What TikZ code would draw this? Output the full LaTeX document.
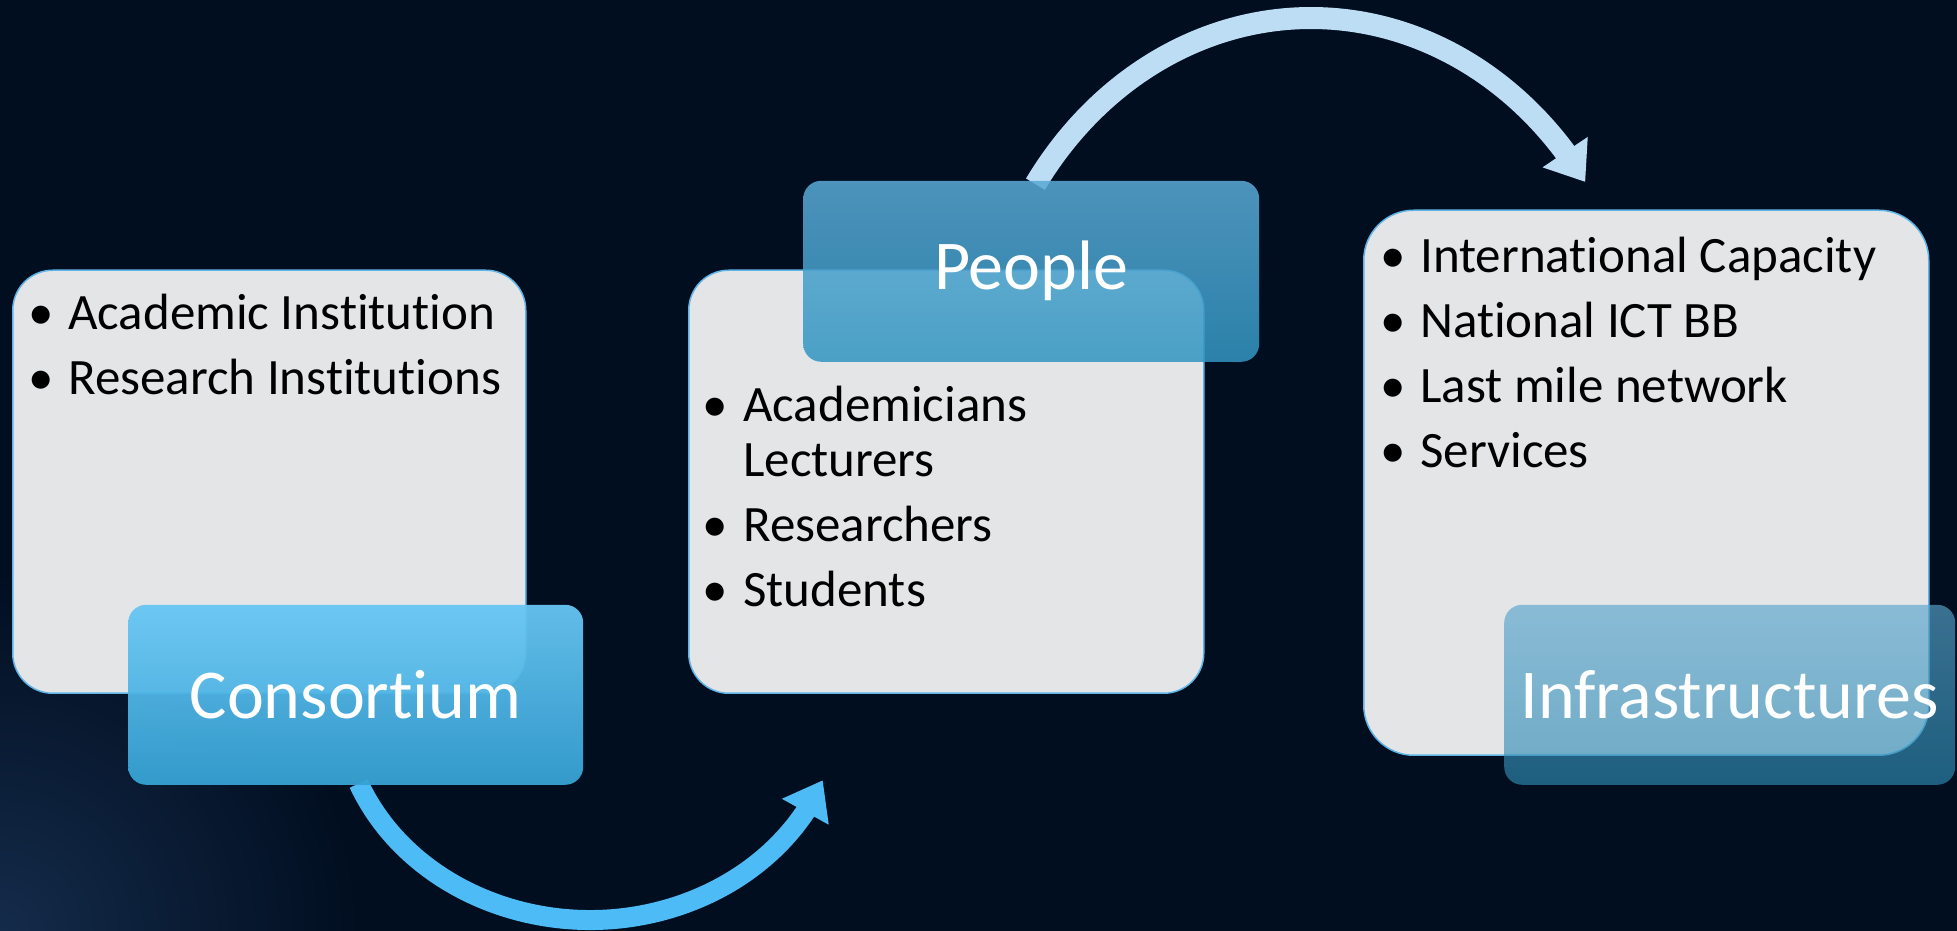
\documentclass[tikz,border=0pt]{standalone}
\usepackage{fontspec}
\setmainfont{Carlito}[RawFeature={-liga}]
\usetikzlibrary{arrows.meta,bending,calc}
\definecolor{bgcol}{HTML}{010E20}
\definecolor{glowcol}{HTML}{142B4A}
\definecolor{greyfill}{HTML}{E4E5E7}
\definecolor{greyline}{HTML}{5FB4E5}
\definecolor{consTop}{HTML}{68C6F4}
\definecolor{consBot}{HTML}{36A2D4}
\definecolor{peopTop}{HTML}{5AA9D5}
\definecolor{peopBot}{HTML}{3295C1}
\definecolor{infTop}{HTML}{5AA5CD}
\definecolor{infBot}{HTML}{2E8BB3}
\definecolor{arrBcol}{HTML}{4DBCF6}
\definecolor{arrTcol}{HTML}{BDDDF5}
\tikzset{
  greybox/.style={draw=greyline, line width=1.5pt, fill=greyfill, rounded corners=40pt, anchor=south west, inner sep=0pt},
  labelbox/.style={rounded corners=18pt, anchor=south west, inner sep=0pt,
    minimum width=455pt, minimum height=180pt, text=white,
    font=\fontsize{70pt}{84pt}\selectfont},
  itemtext/.style={anchor=base west, inner sep=0pt, text=black, font=\fontsize{51pt}{61pt}\selectfont},
  bul/.style={anchor=base, inner sep=0pt, text=black, font=\fontsize{51pt}{61pt}\selectfont},
  arrB/.style={line width=20pt, draw=arrBcol, -{Triangle[width=51pt,length=36pt]}},
  arrT/.style={line width=22pt, draw=arrTcol, -{Triangle[width=52pt,length=36pt]}},
}
\begin{document}
\begin{tikzpicture}[x=1pt,y=1pt]
\useasboundingbox (0,0) rectangle (1957,931);
\fill[bgcol] (0,0) rectangle (1957,931);
\begin{scope}
  \clip (0,0) rectangle (1957,931);
  \shade[inner color=glowcol, outer color=bgcol] (0,0) circle[radius=360pt];
\end{scope}

% curved arrows (drawn first, tails sit under the boxes)
\coordinate (cB) at (590,231);
\coordinate (aBs) at ($(cB)+(202.3:250pt and 220pt)$);
\draw[arrB] (aBs) arc[start angle=202.3, end angle=338.6, x radius=250pt, y radius=220pt];
\coordinate (cT) at (1311,531);
\coordinate (aTs) at ($(cT)+(145.6:334pt and 382pt)$);
\draw[arrT] (aTs) arc[start angle=145.6, end angle=34.8, x radius=334pt, y radius=382pt];

% box 1
\node[greybox, minimum width=513pt, minimum height=423pt] (box1) at (12,237) {};
\node[bul] (b1a) at (41,601) {\textbullet};
\node[itemtext] (t1a) at (68,601) {Academic Institution};
\node[bul] (b1b) at (41,536) {\textbullet};
\node[itemtext] (t1b) at (68,536) {Research Institutions};
\node[labelbox, top color=consTop, bottom color=consBot, fill opacity=0.95, text opacity=1] (cons) at (128,146) {Consortium};

% box 2
\node[greybox, minimum width=515pt, minimum height=423pt] (box2) at (688,237) {};
\node[bul] (b2a) at (715,509) {\textbullet};
\node[itemtext] (t2a) at (743,509) {Academicians};
\node[itemtext] (t2a2) at (743,454) {Lecturers};
\node[bul] (b2b) at (715,389) {\textbullet};
\node[itemtext] (t2b) at (743,389) {Researchers};
\node[bul] (b2c) at (715,324) {\textbullet};
\node[itemtext] (t2c) at (743,324) {Students};
\node[labelbox, minimum width=456pt, minimum height=181pt, top color=peopTop, bottom color=peopBot, fill opacity=0.86, text opacity=1] (people) at (803,569) {People};

% box 3
\node[greybox, rounded corners=50pt, minimum width=565pt, minimum height=545pt] (box3) at (1363,175) {};
\node[bul] (b3a) at (1393,658) {\textbullet};
\node[itemtext] (t3a) at (1420,658) {International Capacity};
\node[bul] (b3b) at (1393,593) {\textbullet};
\node[itemtext] (t3b) at (1420,593) {National ICT BB};
\node[bul] (b3c) at (1393,528) {\textbullet};
\node[itemtext] (t3c) at (1420,528) {Last mile network};
\node[bul] (b3d) at (1393,463) {\textbullet};
\node[itemtext] (t3d) at (1420,463) {Services};
\node[labelbox, minimum width=451pt, top color=infTop, bottom color=infBot, fill opacity=0.65, text opacity=1] (infra) at (1504,146) {Infrastructures};
\end{tikzpicture}
\end{document}
